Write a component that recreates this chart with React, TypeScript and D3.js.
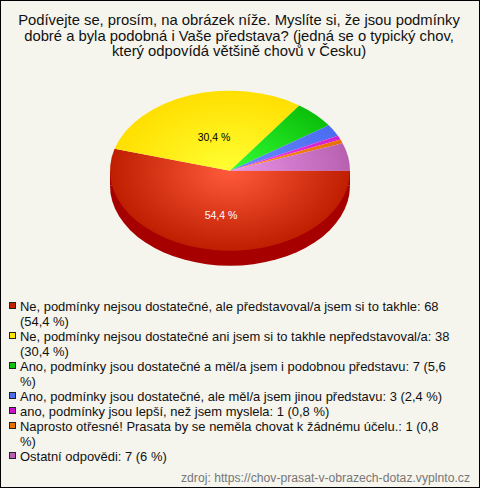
import React from "react";
import * as d3 from "d3";

const titleLines = [
  "Podívejte se, prosím, na obrázek níže. Myslíte si, že jsou podmínky",
  "dobré a byla podobná i Vaše představa? (jedná se o typický chov,",
  "který odpovídá většině chovů v Česku)",
];
const values = [68, 38, 7, 3, 1, 1, 7];
const innerColors = ["#ff5a3c", "#ffff33", "#33ff33", "#6a8cff", "#f040f0", "#ff9020", "#ea94ea"];
const outerColors = ["#bf1e00", "#ffdf00", "#0bbf0b", "#4a6cf0", "#d020d0", "#e87000", "#b860b0"];
const swatches = ["#c32100", "#ffe600", "#0dc30d", "#4d6ff0", "#cc11cc", "#e87000", "#bb5fb5"];
const sliceLabels = ["54,4 %", "30,4 %"];
const legendLines: string[][] = [
  ["Ne, podmínky nejsou dostatečné, ale představoval/a jsem si to takhle: 68", "(54,4 %)"],
  ["Ne, podmínky nejsou dostatečné ani jsem si to takhle nepředstavoval/a: 38", "(30,4 %)"],
  ["Ano, podmínky jsou dostatečné a měl/a jsem i podobnou představu: 7 (5,6", "%)"],
  ["Ano, podmínky jsou dostatečné, ale měl/a jsem jinou představu: 3 (2,4 %)"],
  ["ano, podmínky jsou lepší, než jsem myslela: 1 (0,8 %)"],
  ["Naprosto otřesné! Prasata by se neměla chovat k žádnému účelu.: 1 (0,8", "%)"],
  ["Ostatní odpovědi: 7 (6 %)"],
];
const sourceText = "zdroj: https://chov-prasat-v-obrazech-dotaz.vyplnto.cz";

const W = 480, H = 488, cx = 230, cy = 170.7, rx = 120, ry = 80, depth = 15;
const font = "'Liberation Sans', Arial, sans-serif";

export default function App() {
  const pie = d3.pie<number>().sort(null).startAngle(Math.PI / 2).endAngle(Math.PI * 2.5);
  const arcs = pie(values);
  const arc = d3.arc<any>().innerRadius(0).outerRadius(rx);
  const front = arc({ startAngle: Math.PI / 2, endAngle: (3 * Math.PI) / 2 }) as string;
  const sy = ry / rx;
  let y = 311;
  const lh = 14.5;
  const legendRows = legendLines.map((lines) => {
    const top = y;
    y += lines.length > 1 ? 30 : 15;
    return top;
  });
  return (
    <svg width={W} height={H} viewBox={`0 0 ${W} ${H}`} style={{ position: "absolute", left: 0, top: 0, display: "block" }}>
      <defs>
        {values.map((_, i) => (
          <radialGradient key={i} id={`g${i}`} gradientUnits="userSpaceOnUse" cx={0} cy={0} r={rx}>
            <stop offset="0" stopColor={innerColors[i]} />
            <stop offset="1" stopColor={outerColors[i]} />
          </radialGradient>
        ))}
      </defs>
      <rect x={0.5} y={0.5} width={W - 1} height={H - 1} fill="#f5f4ed" stroke="#000" />
      <g fontFamily={font} fontSize={14.8} fill="#111" textAnchor="middle">
        {titleLines.map((t, i) => (
          <text key={i} x={239} y={25 + i * 15.5}>{t}</text>
        ))}
      </g>
      <rect x={cx - rx} y={cy} width={rx * 2} height={depth} fill="#a60000" />
      <g transform={`translate(${cx},${cy + depth}) scale(1,${sy})`}>
        <path d={front} fill="#a60000" />
      </g>
      <g transform={`translate(${cx},${cy}) scale(1,${sy})`}>
        {arcs.map((a, i) => (
          <path key={i} d={arc(a) as string} fill={`url(#g${i})`} />
        ))}
      </g>
      <g fontFamily={font} fontSize={10.5} textAnchor="middle">
        <text x={221} y={218.5} fill="#fff">{sliceLabels[0]}</text>
        <text x={214} y={140.5} fill="#000">{sliceLabels[1]}</text>
      </g>
      {legendLines.map((lines, i) => (
        <g key={i}>
          <rect x={9.5} y={legendRows[i] - 8.5} width={6} height={6} fill={swatches[i]} stroke="#222" />
          {lines.map((t, j) => (
            <text key={j} x={20} y={legendRows[i] + j * lh} fontFamily={font} fontSize={12.95} fill="#111">{t}</text>
          ))}
        </g>
      ))}
      <text x={181} y={481.5} textLength={289} lengthAdjust="spacingAndGlyphs" fontFamily={font} fontSize={12} fill="#777">{sourceText}</text>
    </svg>
  );
}
